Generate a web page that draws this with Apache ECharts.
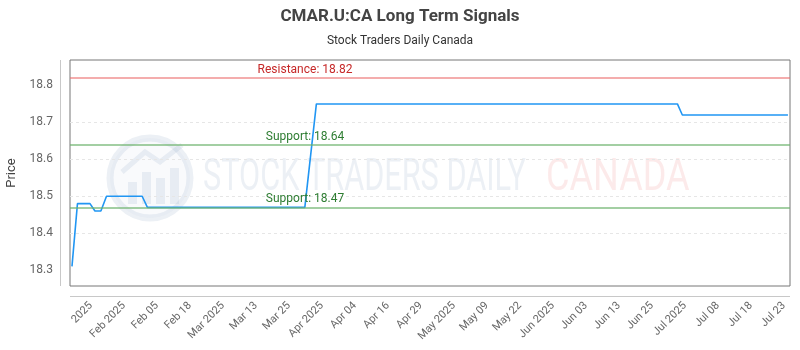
<!DOCTYPE html>
<html><head><meta charset="utf-8">
<script src="https://cdn.jsdelivr.net/npm/echarts@6/dist/echarts.min.js"></script>
<style>html,body{margin:0;padding:0;background:#fff}#c{width:800px;height:350px}</style>
</head><body><div id="c"></div>
<script>
// x-axis tick labels (evenly spaced positions 0..21)
const tickLabels = ['2025','Feb 2025','Feb 05','Feb 18','Mar 2025','Mar 13','Mar 25','Apr 2025','Apr 04','Apr 16','Apr 29','May 2025','May 09','May 22','Jun 2025','Jun 03','Jun 13','Jun 25','Jul 2025','Jul 08','Jul 18','Jul 23'];
const tickPositions = [0,1,2,3,4,5,6,7,8,9,10,11,12,13,14,15,16,17,18,19,20,21];
// price line breakpoints (x in tick-label units)
const priceX = [-0.576,-0.41,-0.03,0.12,0.30,0.47,1.55,1.71,6.48,6.83,17.77,17.92,21.12];
const priceY = [18.31,18.48,18.48,18.46,18.46,18.50,18.50,18.47,18.47,18.75,18.75,18.72,18.72];
const resistance = 18.82;
const supports = [18.64, 18.47];
const yTicks = [18.3,18.4,18.5,18.6,18.7,18.8];

const chart = echarts.init(document.getElementById('c'), null, {renderer:'canvas'});
const font = 'Roboto, "Open Sans", sans-serif';
const wmBlue = 'rgba(110,140,180,0.13)';
const G = {left: 70, right: 10, top: 60, bottom: 64};
const axisLineColor = '#c8c8c8';
chart.setOption({
  animation: false,
  textStyle: {fontFamily: font},
  title: {
    text: 'CMAR.U:CA Long Term Signals',
    subtext: 'Stock Traders Daily Canada',
    left: 'center', top: 3, itemGap: 10,
    textStyle: {fontSize: 17, fontWeight: 'bold', color: '#444', fontFamily: font},
    subtextStyle: {fontSize: 12, color: '#333', fontFamily: font}
  },
  grid: {left: G.left, right: G.right, top: G.top, bottom: G.bottom, show: true, borderColor: '#777', borderWidth: 1, outerBoundsMode: 'none', containLabel: false},
  graphic: [
    // offset axis frame lines
    {type: 'line', z: 1, shape: {x1: G.left - 9.5, y1: G.top, x2: G.left - 9.5, y2: 350 - G.bottom}, style: {stroke: axisLineColor, lineWidth: 1}},
    {type: 'line', z: 1, shape: {x1: G.left, y1: 350 - G.bottom + 10.5, x2: 800 - G.right, y2: 350 - G.bottom + 10.5}, style: {stroke: axisLineColor, lineWidth: 1}},
    // watermark
    {type: 'circle', z: 0, shape: {cx: 150, cy: 178, r: 40}, style: {fill: 'rgba(110,140,180,0.04)', stroke: wmBlue, lineWidth: 7}},
    {type: 'rect', z: 0, shape: {x: 128, y: 182, width: 9, height: 22}, style: {fill: wmBlue}},
    {type: 'rect', z: 0, shape: {x: 142, y: 172, width: 9, height: 32}, style: {fill: wmBlue}},
    {type: 'rect', z: 0, shape: {x: 156, y: 178, width: 9, height: 26}, style: {fill: wmBlue}},
    {type: 'rect', z: 0, shape: {x: 170, y: 168, width: 9, height: 36}, style: {fill: wmBlue}},
    {type: 'polyline', z: 0, shape: {points: [[122,172],[145,152],[160,162],[182,145]]}, style: {stroke: wmBlue, lineWidth: 5, fill: null}},
    {type: 'text', z: 0, x: 203, y: 179, scaleX: 0.73, scaleY: 1.05, style: {x: 0, y: 0, text: 'STOCK TRADERS DAILY', fontSize: 42, fontFamily: font, fill: wmBlue, verticalAlign: 'middle', align: 'left'}},
    {type: 'text', z: 0, x: 546, y: 179, scaleX: 0.86, scaleY: 1.05, style: {x: 0, y: 0, text: 'CANADA', fontSize: 42, fontFamily: font, fill: 'rgba(235,90,90,0.13)', verticalAlign: 'middle', align: 'left'}}
  ],
  xAxis: {
    type: 'value', min: -0.636, max: 21.182, offset: 10,
    axisLine: {show: false, onZero: false},
    axisTick: {show: false},
    splitLine: {show: false},
    axisLabel: {customValues: tickPositions, rotate: 45, margin: 8, fontSize: 11, color: '#666', formatter: v => tickLabels[Math.round(v)] || ''}
  },
  yAxis: {
    type: 'value', min: 18.257, max: 18.869, offset: 10,
    name: 'Price', nameLocation: 'middle', nameGap: 38,
    nameTextStyle: {fontSize: 13, color: '#444'},
    axisLine: {show: false, onZero: false},
    axisTick: {show: false, customValues: yTicks},
    splitLine: {show: true, showMinLine: false, showMaxLine: false, lineStyle: {color: '#e6e6e6', type: [3, 3]}},
    axisLabel: {customValues: yTicks, margin: 7, fontSize: 12, color: '#666', formatter: v => v.toFixed(1)}
  },
  series: [{
    type: 'line', z: 3,
    data: priceX.map((x, i) => [x, priceY[i]]),
    showSymbol: false, symbol: 'none',
    lineStyle: {color: '#2196F3', width: 1.6},
    markLine: {
      silent: true, symbol: 'none',
      data: [
        {yAxis: resistance, lineStyle: {color: 'rgba(235,110,110,0.75)', width: 1.6, type: 'solid'},
         label: {formatter: 'Resistance: ' + resistance.toFixed(2), color: '#c62828'}},
        {yAxis: supports[0], lineStyle: {color: 'rgba(110,180,110,0.85)', width: 1.6, type: 'solid'},
         label: {formatter: 'Support: ' + supports[0].toFixed(2), color: '#2e7d32'}},
        {yAxis: supports[1], lineStyle: {color: 'rgba(110,180,110,0.85)', width: 1.6, type: 'solid'},
         label: {formatter: 'Support: ' + supports[1].toFixed(2), color: '#2e7d32'}}
      ],
      label: {show: true, position: 'insideStartTop', align: 'center', distance: [235, 2], fontSize: 12, fontFamily: font}
    }
  }]
});
</script></body></html>
